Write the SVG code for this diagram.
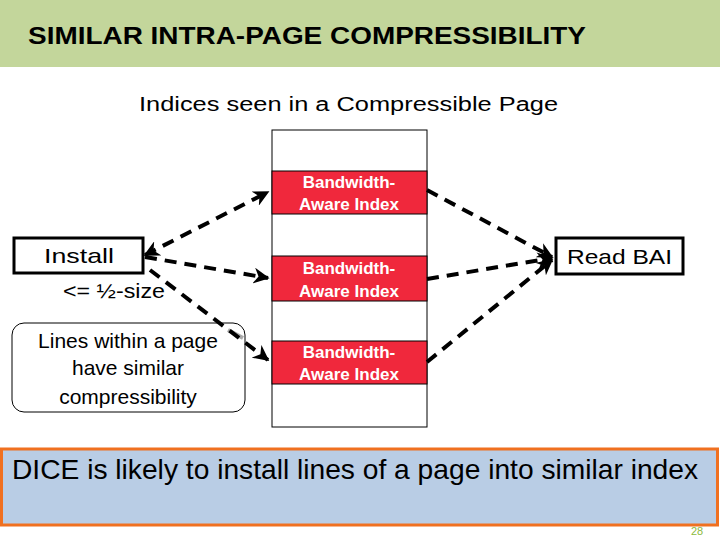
<svg xmlns="http://www.w3.org/2000/svg" width="720" height="540" viewBox="0 0 720 540">
<defs>
<style>
text{font-family:"Liberation Sans",Arial,sans-serif}
.c{stroke:#000;stroke-width:4;stroke-dasharray:12,8;fill:none}
.bai{fill:#f0283c;stroke:#000;stroke-width:1}
.bt{fill:#fff;font-size:17px;font-weight:bold;text-anchor:middle}
</style>
<marker id="ah" viewBox="0 0 10 10" refX="9" refY="5" markerWidth="4" markerHeight="4" orient="auto-start-reverse"><path d="M0,0 L10,5 L0,10 L3,5 z" fill="#000"/></marker>
</defs>
<rect x="0" y="0" width="720" height="67" fill="#c3d69b"/>
<text x="28" y="44" font-size="23" font-weight="bold" fill="#000" textLength="558" lengthAdjust="spacingAndGlyphs">SIMILAR INTRA-PAGE COMPRESSIBILITY</text>
<text x="139" y="111" font-size="20" textLength="419" lengthAdjust="spacingAndGlyphs">Indices seen in a Compressible Page</text>
<g id="page"><rect x="272" y="130" width="155" height="297" fill="#fff" stroke="#000" stroke-width="1"/></g>
<g id="bai1"><rect class="bai" x="272" y="171" width="155" height="43"/><text class="bt" x="349" y="188">Bandwidth-</text><text class="bt" x="349" y="210">Aware Index</text></g>
<g id="bai2"><rect class="bai" x="272" y="256" width="155" height="45"/><text class="bt" x="349" y="274">Bandwidth-</text><text class="bt" x="349" y="297">Aware Index</text></g>
<g id="bai3"><rect class="bai" x="272" y="341" width="155" height="43"/><text class="bt" x="349" y="358">Bandwidth-</text><text class="bt" x="349" y="380">Aware Index</text></g>
<g id="install"><rect x="14" y="238" width="129" height="35" fill="#fff" stroke="#000" stroke-width="3"/><text x="44" y="263" font-size="21" textLength="70" lengthAdjust="spacingAndGlyphs">Install</text></g>
<text x="63" y="298" font-size="20" textLength="102" lengthAdjust="spacingAndGlyphs">&lt;= ½-size</text>
<g id="note"><rect x="12" y="323" width="233" height="89" rx="12" fill="#fff" stroke="#000" stroke-width="1"/><text font-size="21" text-anchor="middle"><tspan x="128" y="348">Lines within a page</tspan><tspan x="128" y="375">have similar</tspan><tspan x="128" y="404">compressibility</tspan></text></g>
<line x1="228" y1="330" x2="243" y2="338" stroke="#aaa" stroke-width="4"/>
<g id="read"><rect x="556" y="238" width="127" height="36" fill="#fff" stroke="#000" stroke-width="3"/><text x="567" y="264" font-size="21" textLength="105" lengthAdjust="spacingAndGlyphs">Read BAI</text></g>
<g id="connectors">
<path class="c" d="M145,255 L268,192" marker-start="url(#ah)" marker-end="url(#ah)"/>
<path class="c" d="M145,257 L268,278" marker-end="url(#ah)"/>
<path class="c" d="M150,270 L268,360" marker-end="url(#ah)"/>
<path class="c" d="M427,190 L552,257" marker-end="url(#ah)"/>
<path class="c" d="M427,279 L552,258" marker-end="url(#ah)"/>
<path class="c" d="M427,362 L552,260" marker-end="url(#ah)"/>
</g>
<g id="banner"><rect x="1.5" y="449" width="716" height="76" fill="#b9cde5" stroke="#f07020" stroke-width="3"/><text x="12" y="479" font-size="28" textLength="686" lengthAdjust="spacingAndGlyphs">DICE is likely to install lines of a page into similar index</text></g>
<text x="697" y="535" font-size="11" fill="#8cba3c" text-anchor="middle">28</text>
</svg>
